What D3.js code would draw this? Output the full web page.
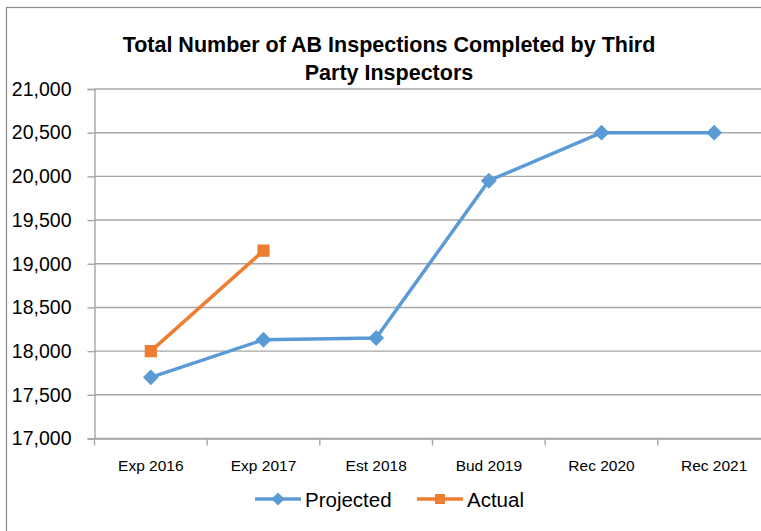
<!DOCTYPE html>
<html>
<head>
<meta charset="utf-8">
<script src="https://cdn.jsdelivr.net/npm/d3@7"></script>
<style>
  body { margin: 0; background: #fff; }
  svg { display: block; font-family: "Liberation Sans", Arial, sans-serif; }
</style>
</head>
<body>
<div id="chart"></div>
<script>
// chart values
const categories = ['Exp 2016', 'Exp 2017', 'Est 2018', 'Bud 2019', 'Rec 2020', 'Rec 2021'];
const projected = [17700, 18130, 18150, 19950, 20500, 20500];
const actual = [18000, 19150];
const yTicks = [17000, 17500, 18000, 18500, 19000, 19500, 20000, 20500, 21000];
const titleLines = ['Total Number of AB Inspections Completed by Third', 'Party Inspectors'];

const width = 761;
const height = 531;

const blue = '#5B9BD5';
const orange = '#ED7D31';
const grid = '#A6A6A6';

const plot = { left: 94.5, right: 770.5, top: 89, bottom: 438.5 };

const xScale = d3.scaleBand()
    .domain(categories)
    .range([plot.left, plot.right]);

const yScale = d3.scaleLinear()
    .domain([17000, 21000])
    .range([plot.bottom, plot.top]);

const svg = d3.select('#chart')
    .append('svg')
    .attr('width', width)
    .attr('height', height);

// chart border, runs off the right / bottom like the screenshot
svg.append('rect')
    .attr('x', 6.5)
    .attr('y', 7.5)
    .attr('width', 900)
    .attr('height', 700)
    .attr('fill', '#fff')
    .attr('stroke', '#8c8c8c')
    .attr('stroke-width', 1.2);

// title
svg.append('text')
    .attr('text-anchor', 'middle')
    .style('font-weight', 'bold')
    .style('font-size', '21.5px')
    .attr('fill', '#000')
    .selectAll('tspan')
    .data(titleLines)
    .enter()
    .append('tspan')
    .attr('x', 389)
    .attr('y', (d, i) => 52 + i * 28)
    .text((d) => d);

// gridlines
svg.append('g')
    .selectAll('line')
    .data(yTicks)
    .enter()
    .append('line')
    .attr('x1', plot.left)
    .attr('x2', plot.right)
    .attr('y1', (d) => yScale(d))
    .attr('y2', (d) => yScale(d))
    .attr('stroke', grid)
    .attr('stroke-width', 1.4);

// y axis
const yAxis = d3.axisLeft(yScale)
    .tickValues(yTicks)
    .tickSize(7)
    .tickPadding(16)
    .tickFormat(d3.format(','));

const yG = svg.append('g')
    .attr('transform', `translate(${plot.left}, 0)`)
    .call(yAxis);

yG.select('.domain').attr('stroke', grid).attr('stroke-width', 1.4);
yG.selectAll('.tick line').attr('stroke', grid).attr('stroke-width', 1.4);
yG.selectAll('.tick text')
    .style('font-size', '19.5px')
    .style('font-family', '"Liberation Sans", Arial, sans-serif')
    .attr('fill', '#000');

// x axis, ticks on category boundaries
const xAxis = d3.axisBottom(xScale)
    .tickSize(0)
    .tickPadding(21);

const xG = svg.append('g')
    .attr('transform', `translate(0, ${plot.bottom})`)
    .call(xAxis);

xG.select('.domain').attr('stroke', grid).attr('stroke-width', 1.4);
xG.selectAll('.tick text')
    .style('font-size', '15.5px')
    .style('font-family', '"Liberation Sans", Arial, sans-serif')
    .attr('fill', '#000');

xG.selectAll('.bound')
    .data(categories)
    .enter()
    .append('line')
    .attr('class', 'bound')
    .attr('x1', (d) => xScale(d))
    .attr('x2', (d) => xScale(d))
    .attr('y1', 0)
    .attr('y2', 7)
    .attr('stroke', grid)
    .attr('stroke-width', 1.4);

const cx = (i) => xScale(categories[i]) + xScale.bandwidth() / 2;

const line = d3.line()
    .x((d, i) => cx(i))
    .y((d) => yScale(d));

const diamond = d3.symbol().type(d3.symbolDiamond2).size(160);
const square = d3.symbol().type(d3.symbolSquare).size(150);

// Projected
svg.append('path')
    .datum(projected)
    .attr('d', line)
    .attr('fill', 'none')
    .attr('stroke', blue)
    .attr('stroke-width', 3.5)
    .attr('stroke-linejoin', 'round');

svg.append('g')
    .selectAll('path')
    .data(projected)
    .enter()
    .append('path')
    .attr('d', diamond)
    .attr('transform', (d, i) => `translate(${cx(i)}, ${yScale(d)})`)
    .attr('fill', blue);

// Actual
svg.append('path')
    .datum(actual)
    .attr('d', line)
    .attr('fill', 'none')
    .attr('stroke', orange)
    .attr('stroke-width', 3.5)
    .attr('stroke-linejoin', 'round');

svg.append('g')
    .selectAll('path')
    .data(actual)
    .enter()
    .append('path')
    .attr('d', square)
    .attr('transform', (d, i) => `translate(${cx(i)}, ${yScale(d)})`)
    .attr('fill', orange);

// legend
const legendItems = [
    { name: 'Projected', color: blue, sym: d3.symbol().type(d3.symbolDiamond2).size(110), x: 255 },
    { name: 'Actual', color: orange, sym: d3.symbol().type(d3.symbolSquare).size(100), x: 417 }
];

const legend = svg.append('g').attr('transform', 'translate(0, 499)');

legendItems.forEach((item) => {
    legend.append('line')
        .attr('x1', item.x)
        .attr('x2', item.x + 46)
        .attr('y1', 0)
        .attr('y2', 0)
        .attr('stroke', item.color)
        .attr('stroke-width', 3.5);
    legend.append('path')
        .attr('d', item.sym)
        .attr('transform', `translate(${item.x + 23}, 0)`)
        .attr('fill', item.color);
    legend.append('text')
        .attr('x', item.x + 50)
        .attr('y', 7.5)
        .style('font-size', '20.5px')
        .attr('fill', '#000')
        .text(item.name);
});
</script>
</body>
</html>
